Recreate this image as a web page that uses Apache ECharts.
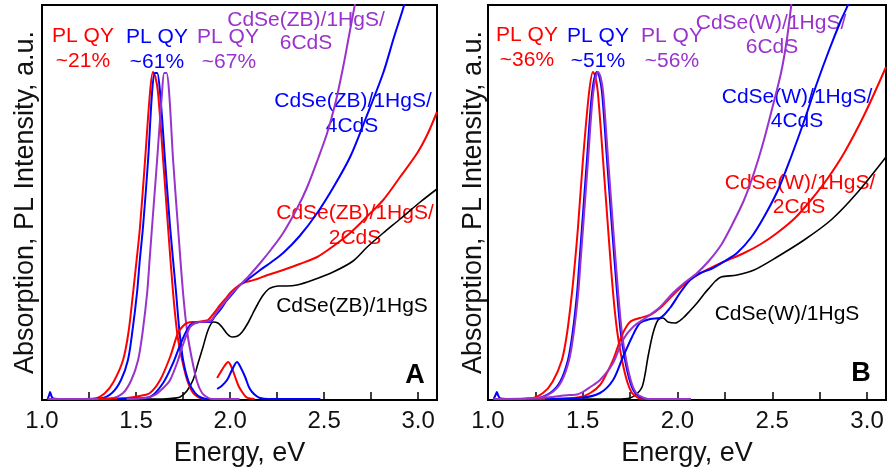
<!DOCTYPE html>
<html><head><meta charset="utf-8">
<script src="https://cdn.jsdelivr.net/npm/echarts@6/dist/echarts.min.js"></script>
<style>html,body{margin:0;padding:0;background:#fff}#c{width:888px;height:472px}</style>
</head><body><div id="c"></div>
<script>
// ---------- data (Energy in eV, intensity in arbitrary units) ----------
const xTicks = [1.0, 1.5, 2.0, 2.5, 3.0];

// Panel A : CdSe(ZB)
const absA_1HgS = [[1.45,1],[1.6,1],[1.68,1.5],[1.734,3],[1.77,9],[1.803,20],[1.83,37],[1.856,53],[1.883,70],[1.91,78],[1.935,77],[1.957,73],[1.985,66],[2.011,63],[2.04,64],[2.064,68],[2.095,77],[2.122,87],[2.15,97],[2.176,105],[2.205,111],[2.229,113],[2.26,114],[2.3,114],[2.356,115],[2.441,120],[2.548,128],[2.654,139],[2.729,153],[2.814,167],[2.904,181],[3.011,198],[3.1,211]];
const absA_2CdS = [[1.3,1],[1.45,2],[1.52,4],[1.574,7],[1.628,20],[1.681,43],[1.723,67],[1.75,74],[1.771,77],[1.8,78],[1.824,78],[1.86,79],[1.883,80],[1.915,87],[1.947,95],[1.975,101],[2.0,107],[2.035,113],[2.069,117],[2.106,119],[2.144,121],[2.2,125],[2.282,130],[2.37,136],[2.463,143],[2.55,154],[2.638,167],[2.72,182],[2.814,200],[2.9,222],[2.995,247],[3.05,266],[3.1,288]];
const absA_4CdS = [[1.4,1],[1.5,1.5],[1.574,3],[1.644,17],[1.697,37],[1.745,60],[1.787,75],[1.815,77],[1.84,78],[1.894,78],[1.92,84],[1.947,90],[1.98,99],[2.016,107],[2.053,115],[2.09,120],[2.16,130],[2.22,138],[2.282,147],[2.37,164],[2.463,187],[2.55,213],[2.638,243],[2.72,281],[2.814,327],[2.87,362],[2.93,398],[2.97,430]];
const absA_6CdS = [[1.45,1],[1.55,2],[1.6,5],[1.65,13],[1.681,20],[1.72,38],[1.745,53],[1.787,73],[1.815,77],[1.84,78],[1.894,79],[1.93,88],[1.98,100],[2.016,108],[2.053,115],[2.1,124],[2.16,137],[2.22,151],[2.282,167],[2.36,193],[2.41,213],[2.465,240],[2.516,267],[2.56,297],[2.601,333],[2.63,362],[2.665,397],[2.7,430]];
const plA_2CdS = [[1.03,1],[1.1,1],[1.2,1],[1.282,1.5],[1.335,7],[1.38,18],[1.431,40],[1.46,68],[1.484,107],[1.503,140],[1.521,173],[1.548,240],[1.574,307],[1.59,328],[1.603,323],[1.617,307],[1.644,240],[1.67,173],[1.697,107],[1.72,65],[1.745,40],[1.775,18],[1.803,7],[1.835,2.5],[1.867,1],[1.95,1]];
const plA_4CdS = [[1.03,1],[1.038,5],[1.043,8],[1.05,4],[1.06,1.5],[1.1,1],[1.2,1],[1.309,1.5],[1.372,7],[1.42,20],[1.457,40],[1.48,68],[1.505,107],[1.52,140],[1.537,173],[1.564,240],[1.585,307],[1.6,327],[1.612,327],[1.628,307],[1.654,240],[1.681,173],[1.713,107],[1.73,70],[1.75,40],[1.78,18],[1.814,7],[1.845,2.5],[1.878,1],[1.95,1]];
const plA_6CdS = [[1.03,1],[1.2,1],[1.362,1.5],[1.431,7],[1.475,20],[1.511,40],[1.535,68],[1.559,107],[1.572,140],[1.585,173],[1.612,240],[1.638,307],[1.65,327],[1.662,327],[1.676,307],[1.697,240],[1.723,173],[1.75,107],[1.772,68],[1.798,40],[1.825,18],[1.851,7],[1.88,2.5],[1.904,1],[2.05,1]];
const plA_2CdS_core = [[1.931,22],[1.95,28],[1.97,34],[1.989,38],[2.005,34],[2.027,23],[2.045,14],[2.064,8],[2.085,3],[2.106,1.5],[2.13,1]];
const plA_4CdS_core = [[1.931,11],[1.955,14],[1.984,20],[2.01,30],[2.037,38],[2.055,33],[2.08,23],[2.1,13],[2.117,8],[2.14,4],[2.16,2],[2.2,1],[2.48,1]];

// Panel B : CdSe(W)
const absB_1HgS = [[1.5,1],[1.68,1],[1.749,2],[1.785,6],[1.813,13],[1.83,27],[1.844,43],[1.871,67],[1.897,80],[1.923,82],[1.95,78],[1.987,77],[2.029,82],[2.065,89],[2.103,97],[2.14,106],[2.172,113],[2.2,119],[2.23,123],[2.314,125],[2.404,130],[2.525,143],[2.668,160],[2.81,180],[2.947,207],[3.1,243]];
const absB_2CdS = [[1.2,1],[1.4,1.5],[1.486,3],[1.54,7],[1.591,15],[1.63,28],[1.66,40],[1.69,56],[1.712,67],[1.749,78],[1.802,82],[1.855,85],[1.908,92],[1.976,105],[2.05,118],[2.124,127],[2.23,137],[2.351,147],[2.44,156],[2.525,167],[2.62,182],[2.704,200],[2.79,221],[2.879,247],[2.99,287],[3.1,333]];
const absB_4CdS = [[1.3,1],[1.486,2],[1.591,7],[1.66,20],[1.712,43],[1.76,63],[1.802,77],[1.855,81],[1.908,82],[1.96,92],[2.013,107],[2.066,120],[2.12,127],[2.177,131],[2.25,139],[2.314,147],[2.39,163],[2.456,183],[2.53,210],[2.599,243],[2.67,280],[2.736,317],[2.8,350],[2.863,380],[2.905,398],[2.95,430]];
const absB_6CdS = [[1.03,1],[1.2,1.5],[1.3,2.5],[1.38,4],[1.43,5],[1.47,5.5],[1.5,8],[1.54,13],[1.591,20],[1.66,37],[1.712,60],[1.765,73],[1.839,83],[1.908,93],[1.976,107],[2.029,116],[2.103,127],[2.165,139],[2.23,155],[2.29,176],[2.351,200],[2.405,228],[2.456,260],[2.5,292],[2.546,327],[2.575,358],[2.599,393],[2.63,440]];
const plB_2CdS = [[1.03,1],[1.1,1],[1.222,1.5],[1.29,7],[1.34,18],[1.39,40],[1.418,68],[1.443,107],[1.46,140],[1.475,173],[1.501,240],[1.533,307],[1.554,328],[1.567,323],[1.58,307],[1.607,240],[1.633,173],[1.66,107],[1.682,68],[1.707,40],[1.735,18],[1.76,7],[1.79,2.5],[1.818,1],[1.9,1]];
const plB_4CdS = [[1.03,1],[1.04,5],[1.047,8],[1.055,4],[1.065,1.5],[1.1,1],[1.248,1.5],[1.327,7],[1.38,18],[1.422,40],[1.447,68],[1.47,107],[1.483,140],[1.496,173],[1.522,240],[1.549,307],[1.575,328],[1.588,323],[1.602,307],[1.628,240],[1.654,173],[1.681,107],[1.7,68],[1.723,40],[1.75,18],[1.776,7],[1.81,2.5],[1.839,1],[2.07,1]];
const plB_6CdS = [[1.03,1],[1.1,1],[1.255,1.5],[1.333,7],[1.386,18],[1.428,40],[1.453,68],[1.476,107],[1.489,140],[1.502,173],[1.528,240],[1.555,307],[1.581,328],[1.594,323],[1.608,307],[1.634,240],[1.66,173],[1.687,107],[1.706,68],[1.729,40],[1.756,18],[1.782,7],[1.816,2.5],[1.845,1],[2.07,1]];

// ---------- chart ----------
const RED = '#ff0000', BLUE = '#0000ff', PUR = '#9933cc', BLK = '#000000';
const FONT = '"Liberation Sans", Arial, sans-serif';

function line(data, color, g, w) {
  return { type: 'line', data: data, xAxisIndex: g, yAxisIndex: g, showSymbol: false,
    smooth: 0.3, clip: true, silent: true, animation: false,
    lineStyle: { color: color, width: w } };
}
const series = [
  line(absA_1HgS, BLK, 0, 1.6), line(plA_2CdS, RED, 0, 2), line(plA_4CdS, BLUE, 0, 2), line(plA_6CdS, PUR, 0, 2),
  line(absA_2CdS, RED, 0, 2), line(absA_4CdS, BLUE, 0, 2), line(absA_6CdS, PUR, 0, 2),
  line(plA_2CdS_core, RED, 0, 2), line(plA_4CdS_core, BLUE, 0, 2),
  line(absB_1HgS, BLK, 1, 1.6), line(plB_2CdS, RED, 1, 2), line(plB_4CdS, BLUE, 1, 2), line(plB_6CdS, PUR, 1, 2),
  line(absB_2CdS, RED, 1, 2), line(absB_4CdS, BLUE, 1, 2), line(absB_6CdS, PUR, 1, 2)
];

function xAx(g) {
  return { type: 'value', gridIndex: g, min: 1.0, max: 3.1, interval: 0.25,
    name: 'Energy, eV', nameLocation: 'middle', nameGap: 40,
    nameTextStyle: { fontFamily: FONT, fontSize: 27, color: '#111' },
    axisLine: { show: true, lineStyle: { color: '#000', width: 2 } },
    axisTick: { show: true, inside: true, length: 8, lineStyle: { color: '#000', width: 1.5 } },
    axisLabel: { margin: 9, fontFamily: FONT, fontSize: 24, color: '#111', showMaxLabel: false,
      formatter: v => xTicks.some(t => Math.abs(t - v) < 1e-6) ? v.toFixed(1) : '' },
    splitLine: { show: false } };
}
function yAx(g, gap) {
  return { type: 'value', gridIndex: g, min: 0, max: 395,
    name: 'Absorption, PL Intensity, a.u.', nameLocation: 'middle', nameGap: gap, nameRotate: 90,
    nameTextStyle: { fontFamily: FONT, fontSize: 27, color: '#111' },
    axisLine: { show: true, lineStyle: { color: '#000', width: 2 } },
    axisTick: { show: false }, axisLabel: { show: false }, splitLine: { show: false } };
}
function txt(x, y, s, color, size, bold) {
  return { type: 'text', x: x, y: y, silent: true,
    style: { text: s, fill: color, font: (bold ? 'bold ' : '') + size + 'px ' + FONT,
      align: 'center', verticalAlign: 'middle', textAlign: 'center', textVerticalAlign: 'middle' } };
}
const S = 21;
const graphic = [
  txt(83, 36, 'PL QY', RED, S), txt(83, 61, '~21%', RED, S),
  txt(157, 37, 'PL QY', BLUE, S), txt(157, 62, '~61%', BLUE, S),
  txt(228, 37, 'PL QY', PUR, S), txt(229, 62, '~67%', PUR, S),
  txt(306, 20, 'CdSe(ZB)/1HgS/', PUR, S), txt(306, 43, '6CdS', PUR, S),
  txt(353, 101, 'CdSe(ZB)/1HgS/', BLUE, S), txt(352, 126, '4CdS', BLUE, S),
  txt(355, 213, 'CdSe(ZB)/1HgS/', RED, S), txt(355, 238, '2CdS', RED, S),
  txt(352, 306, 'CdSe(ZB)/1HgS', BLK, S),
  txt(415, 376, 'A', BLK, 27, true),
  txt(527, 35, 'PL QY', RED, S), txt(527, 60, '~36%', RED, S),
  txt(598, 36, 'PL QY', BLUE, S), txt(598, 61, '~51%', BLUE, S),
  txt(672, 36, 'PL QY', PUR, S), txt(672, 61, '~56%', PUR, S),
  txt(771, 23, 'CdSe(W)/1HgS/', PUR, S), txt(772, 47, '6CdS', PUR, S),
  txt(797, 97, 'CdSe(W)/1HgS/', BLUE, S), txt(797, 121, '4CdS', BLUE, S),
  txt(800, 183, 'CdSe(W)/1HgS/', RED, S), txt(799, 207, '2CdS', RED, S),
  txt(787, 314, 'CdSe(W)/1HgS', BLK, S),
  txt(861, 374, 'B', BLK, 27, true)
];

const chart = echarts.init(document.getElementById('c'), null, { renderer: 'canvas' });
chart.setOption({
  animation: false,
  backgroundColor: '#fff',
  grid: [
    { left: 42, top: 5, width: 395, height: 395, show: true, borderColor: '#000', borderWidth: 2 },
    { left: 488, top: 5, width: 398, height: 395, show: true, borderColor: '#000', borderWidth: 2 }
  ],
  xAxis: [xAx(0), xAx(1)],
  yAxis: [yAx(0, 3), yAx(1, 1)],
  series: series,
  graphic: graphic
});
</script></body></html>
